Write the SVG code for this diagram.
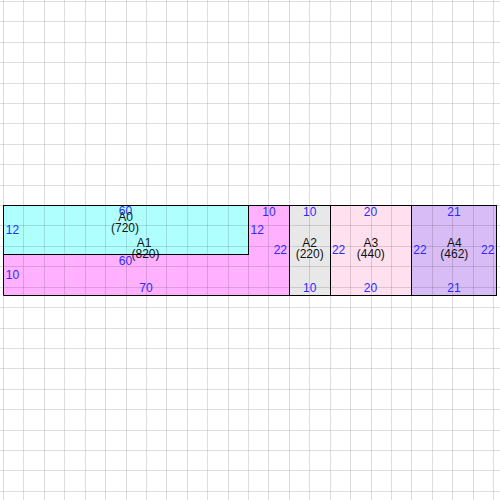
<svg xmlns="http://www.w3.org/2000/svg" width="500" height="500" viewBox="0 0 500 500">
<style>
.grid line{stroke:#000;stroke-opacity:0.13;stroke-width:1}
.shape{stroke:#000;stroke-width:1}
text{font-family:"Liberation Sans",Arial,sans-serif;font-size:12px}
.dim{fill:#2a2aff}
.nm{fill:#111;text-anchor:middle}
.c{text-anchor:middle}
.e{text-anchor:end}
</style>
<rect x="0" y="0" width="500" height="500" fill="#fff"/>
<g id="fills">
<rect x="3.5" y="205.5" width="245" height="49" fill="#b0ffff"/>
<path d="M248.5 205.5 H289.5 V295.5 H3.5 V254.5 H248.5 Z" fill="#ffb0ff"/>
<rect x="289.5" y="205.5" width="41" height="90" fill="#e8e8e8"/>
<rect x="330.5" y="205.5" width="81" height="90" fill="#ffe0ee"/>
<rect x="411.5" y="205.5" width="85" height="90" fill="#d8bcf6"/>
</g>
<g class="grid">
<line x1="3.5" y1="0" x2="3.5" y2="500"/><line x1="23.5" y1="0" x2="23.5" y2="500"/><line x1="44.5" y1="0" x2="44.5" y2="500"/><line x1="64.5" y1="0" x2="64.5" y2="500"/><line x1="85.5" y1="0" x2="85.5" y2="500"/><line x1="105.5" y1="0" x2="105.5" y2="500"/><line x1="126.5" y1="0" x2="126.5" y2="500"/><line x1="146.5" y1="0" x2="146.5" y2="500"/><line x1="166.5" y1="0" x2="166.5" y2="500"/><line x1="187.5" y1="0" x2="187.5" y2="500"/><line x1="207.5" y1="0" x2="207.5" y2="500"/><line x1="228.5" y1="0" x2="228.5" y2="500"/><line x1="248.5" y1="0" x2="248.5" y2="500"/><line x1="268.5" y1="0" x2="268.5" y2="500"/><line x1="289.5" y1="0" x2="289.5" y2="500"/><line x1="309.5" y1="0" x2="309.5" y2="500"/><line x1="330.5" y1="0" x2="330.5" y2="500"/><line x1="350.5" y1="0" x2="350.5" y2="500"/><line x1="371.5" y1="0" x2="371.5" y2="500"/><line x1="391.5" y1="0" x2="391.5" y2="500"/><line x1="411.5" y1="0" x2="411.5" y2="500"/><line x1="432.5" y1="0" x2="432.5" y2="500"/><line x1="452.5" y1="0" x2="452.5" y2="500"/><line x1="473.5" y1="0" x2="473.5" y2="500"/><line x1="493.5" y1="0" x2="493.5" y2="500"/>
<line x1="0" y1="1.5" x2="500" y2="1.5"/><line x1="0" y1="21.5" x2="500" y2="21.5"/><line x1="0" y1="42.5" x2="500" y2="42.5"/><line x1="0" y1="62.5" x2="500" y2="62.5"/><line x1="0" y1="83.5" x2="500" y2="83.5"/><line x1="0" y1="103.5" x2="500" y2="103.5"/><line x1="0" y1="123.5" x2="500" y2="123.5"/><line x1="0" y1="144.5" x2="500" y2="144.5"/><line x1="0" y1="164.5" x2="500" y2="164.5"/><line x1="0" y1="185.5" x2="500" y2="185.5"/><line x1="0" y1="205.5" x2="500" y2="205.5"/><line x1="0" y1="225.5" x2="500" y2="225.5"/><line x1="0" y1="246.5" x2="500" y2="246.5"/><line x1="0" y1="266.5" x2="500" y2="266.5"/><line x1="0" y1="287.5" x2="500" y2="287.5"/><line x1="0" y1="307.5" x2="500" y2="307.5"/><line x1="0" y1="328.5" x2="500" y2="328.5"/><line x1="0" y1="348.5" x2="500" y2="348.5"/><line x1="0" y1="368.5" x2="500" y2="368.5"/><line x1="0" y1="389.5" x2="500" y2="389.5"/><line x1="0" y1="409.5" x2="500" y2="409.5"/><line x1="0" y1="430.5" x2="500" y2="430.5"/><line x1="0" y1="450.5" x2="500" y2="450.5"/><line x1="0" y1="470.5" x2="500" y2="470.5"/><line x1="0" y1="491.5" x2="500" y2="491.5"/>
</g>
<g id="A1">
<path class="shape" fill="none" d="M248.5 205.5 H289.5 V295.5 H3.5 V254.5 H248.5 Z"/>
<text class="dim c" x="268.9" y="215.7">10</text>
<text class="dim" x="250.6" y="234">12</text>
<text class="dim e" x="287" y="254.2">22</text>
<text class="dim c" x="146" y="292.3">70</text>
<text class="dim" x="5.8" y="279.3">10</text>
<text class="dim c" x="125.5" y="265">60</text>
<text class="nm" x="144" y="246.7">A1</text>
<text class="nm" x="145.5" y="258.3">(820)</text>
</g>
<g id="A0">
<rect class="shape" fill="none" x="3.5" y="205.5" width="245" height="49"/>
<text class="dim c" x="125.5" y="215.2">60</text>
<text class="dim" x="5.8" y="234">12</text>
<text class="nm" x="125.5" y="221">A0</text>
<text class="nm" x="125" y="232">(720)</text>
</g>
<g id="A2">
<rect class="shape" fill="none" x="289.5" y="205.5" width="41" height="90"/>
<text class="dim c" x="309.7" y="215.7">10</text>
<text class="dim c" x="309.7" y="292.3">10</text>
<text class="nm" x="309.7" y="246.7">A2</text>
<text class="nm" x="309.7" y="258.3">(220)</text>
</g>
<g id="A3">
<rect class="shape" fill="none" x="330.5" y="205.5" width="81" height="90"/>
<text class="dim c" x="370.5" y="215.7">20</text>
<text class="dim c" x="370.5" y="292.3">20</text>
<text class="dim" x="331.9" y="254.2">22</text>
<text class="nm" x="370.8" y="246.7">A3</text>
<text class="nm" x="370.8" y="258.3">(440)</text>
</g>
<g id="A4">
<rect class="shape" fill="none" x="411.5" y="205.5" width="85" height="90"/>
<text class="dim c" x="454" y="215.7">21</text>
<text class="dim c" x="454" y="292.3">21</text>
<text class="dim" x="413.3" y="254.2">22</text>
<text class="dim e" x="494.4" y="254.2">22</text>
<text class="nm" x="454.3" y="246.7">A4</text>
<text class="nm" x="454.3" y="258.3">(462)</text>
</g>
</svg>
